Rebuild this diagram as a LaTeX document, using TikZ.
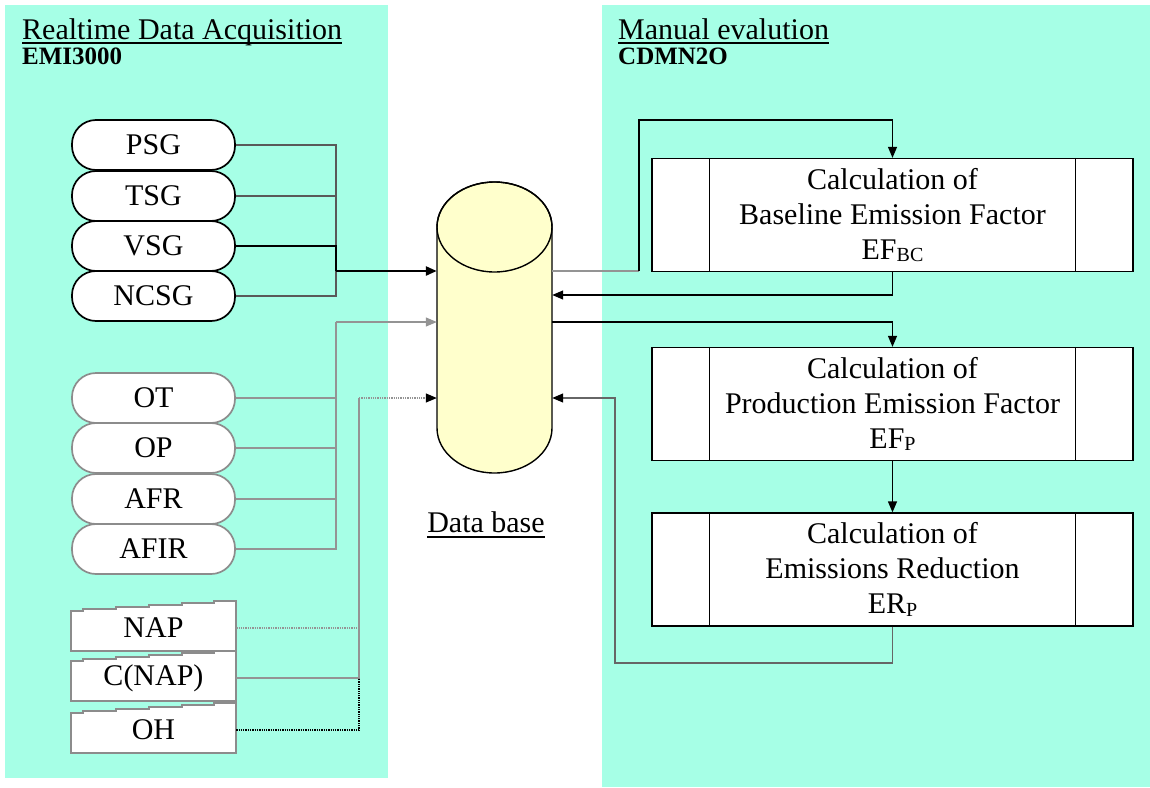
\documentclass[tikz,border=0pt]{standalone}
\usepackage{fontspec}
\setmainfont{Liberation Serif}
\usetikzlibrary{arrows.meta,calc}
\definecolor{panel}{RGB}{166,255,230}
\definecolor{dbfill}{RGB}{255,255,204}
\newcommand\lowsub[1]{\raisebox{-2.5pt}{\fontsize{20}{20}\selectfont #1}}
\begin{document}
\begin{tikzpicture}[x=1pt,y=-1pt,
  every node/.style={font=\fontsize{30}{35}\selectfont},
  sensor/.style={draw=black, line width=1.7pt, fill=white, rounded corners=24pt,
    minimum width=163pt, minimum height=50pt, inner sep=0pt},
  sensorg/.style={sensor, draw=black!45},
  docline/.style={draw=black!45, line width=1.4pt, fill=white},
  docnode/.style={minimum width=165pt, minimum height=46pt, inner sep=0pt},
  calcbox/.style={draw, line width=1.3pt, fill=white, minimum width=481pt,
    minimum height=113pt, align=center, inner sep=0pt},
  tip/.style={-{Triangle[length=11pt,width=9pt]}},
  tipk/.style={-{Triangle[length=11pt,width=9pt,color=black]}},
  conn/.style={line width=1.3pt},
  dk/.style={conn, draw=black!65},
  gr/.style={conn, draw=black!42},
  title/.style={anchor=base west, inner sep=0pt, font=\fontsize{30}{32}\selectfont},
  subtitle/.style={anchor=base west, inner sep=0pt, font=\fontsize{25}{27}\selectfont\bfseries},
]
\useasboundingbox (0,0) rectangle (1150,787);

% panels
\fill[panel] (5,5) rectangle (388,778);
\fill[panel] (602,5) rectangle (1150,787);

% panel titles
\node[title] (t1) at (22,39) {Realtime Data Acquisition};
\draw[line width=1.6pt] ([yshift=-4pt]t1.base west) -- ([yshift=-4pt]t1.base east);
\node[subtitle] (s1) at (22,64) {EMI3000};
\node[title] (t2) at (618,39) {Manual evalution};
\draw[line width=1.6pt] ([yshift=-4pt]t2.base west) -- ([yshift=-4pt]t2.base east);
\node[subtitle] (s2) at (618,64) {CDMN2O};

% data base cylinder
\filldraw[fill=dbfill, line width=1.4pt]
  (437,227) -- (437,428) arc[start angle=180, end angle=0, x radius=57.5, y radius=45]
  -- (552,227) arc[start angle=0, end angle=-180, x radius=57.5, y radius=45] -- cycle;
\draw[line width=1.4pt] (494.5,227) ellipse[x radius=57.5, y radius=45];
\node[minimum width=115pt, minimum height=291pt, inner sep=0pt] (db) at (494.5,327.5) {};
\node[inner sep=0pt, anchor=base] (dblabel) at (486,532) {Data base};
\draw[line width=1.6pt] ([yshift=-5pt]dblabel.base west) -- ([yshift=-5pt]dblabel.base east);

% realtime sensor groups
\node[sensor] (psg) at (153.5,145) {PSG};
\node[sensor] (tsg) at (153.5,196) {TSG};
\node[sensor] (vsg) at (153.5,246) {VSG};
\node[sensor] (ncsg) at (153.5,296) {NCSG};

\node[sensorg] (ot) at (153.5,398) {OT};
\node[sensorg] (op) at (153.5,448) {OP};
\node[sensorg] (afr) at (153.5,499) {AFR};
\node[sensorg] (afir) at (153.5,549) {AFIR};

% manual input documents
\foreach \nm/\txt/\by in {nap/NAP/651, cnap/{C(NAP)}/701, oh/OH/753}{
  \path[docline] (71,\by) -- ++(0,-40) -- ++(12,0) -- ++(0,-2) -- ++(33,0) -- ++(0,-2)
    -- ++(33,0) -- ++(0,-2) -- ++(33,0) -- ++(0,-2) -- ++(32,0) -- ++(0,-2)
    -- ++(22,0) -- (236,\by) -- cycle;
  \node[docnode] (\nm) at (153.5,\by-23) {\txt};
}

% calculation boxes
\node[calcbox] (b1) at (892.5,215) {Calculation of\\Baseline Emission Factor\\EF\lowsub{BC}};
\node[calcbox] (b2) at (892.5,404) {Calculation of\\Production Emission Factor\\EF\lowsub{P}};
\node[calcbox] (b3) at (892.5,569.5) {Calculation of\\Emissions Reduction\\ER\lowsub{P}};
\foreach \b in {b1,b2,b3}{
  \draw[line width=1.3pt] ([xshift=58pt]\b.north west) -- ([xshift=58pt]\b.south west);
  \draw[line width=1.3pt] ([xshift=-58pt]\b.north east) -- ([xshift=-58pt]\b.south east);
}

% junctions
\coordinate (j1) at (336,271);
\coordinate (j2) at (336,322);
\coordinate (j3) at (359,398);
\coordinate (r1) at (639,271);
\coordinate (r1top) at (892.5,120);
\coordinate (y295) at (0,295);
\coordinate (r3) at (615,663);

% group 1 to data base
\draw[dk] (psg.east) -| (j1);
\draw[dk] (tsg.east) -| (j1);
\draw[conn] (vsg.east) -| (j1);
\draw[dk] (ncsg.east) -| (j1);
\draw[line width=2.4pt, tip] (j1) -- (db.west |- j1);

% group 2 to data base
\draw[gr] (ot.east) -| (j2);
\draw[gr] (op.east) -| (j2);
\draw[gr] (afr.east) -| (j2);
\draw[gr] (afir.east) -| (j2);
\draw[gr, tip] (j2) -- (db.west |- j2);

% group 3 to data base
\draw[gr, densely dotted] (nap.east) -- (nap.east -| j3);
\draw[gr] (cnap.east) -| (j3);
\draw[conn, densely dotted] (oh.east) -| (cnap.east -| j3);
\draw[gr, densely dotted, tipk] (j3) -- (db.west |- j3);

% manual evaluation loop
\draw[gr] (db.east |- r1) -- (r1);
\draw[conn, tip] (r1) |- (r1top) -- (b1.north);
\draw[conn, tip] (b1.south) |- (db.east |- y295);
\draw[conn, tip] (db.east |- j2) -| (b2.north);
\draw[conn, tip] (b2.south) -- (b3.north);
\draw[conn, draw=black!60, tipk] (b3.south) |- (r3) |- (db.east |- j3);
\end{tikzpicture}
\end{document}
